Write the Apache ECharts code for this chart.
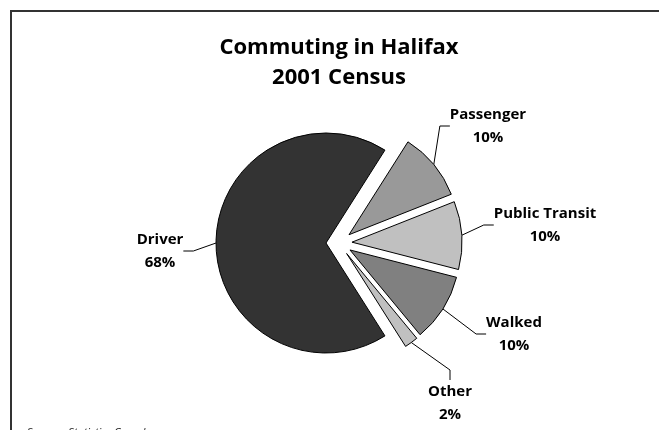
<!DOCTYPE html>
<html><head><meta charset="utf-8">
<script src="https://cdn.jsdelivr.net/npm/echarts@6/dist/echarts.min.js"></script>
<style>html,body{margin:0;padding:0;background:#fff}#c{width:659px;height:430px}</style>
</head><body><div id="c"></div>
<script>
const categories = ['Driver', 'Passenger', 'Public Transit', 'Walked', 'Other'];
const values = [68, 10, 10, 10, 2];
const colors = ['#333333', '#999999', '#c0c0c0', '#808080', '#c0c0c0'];
const titleLines = ['Commuting in Halifax', '2001 Census'];
const sourceText = 'Source:  Statistics Canada';

const FONT = '"Open Sans", Lato, sans-serif';
const CX = 339, CY = 243, R = 110, START = 302.4, EXPLODE = 13;
const labelPos = [[160, 251, 'center'], [488, 126, 'center'], [545, 225, 'center'], [514, 334, 'center'], [450, 403, 'center']];

const total = values.reduce((a, b) => a + b, 0);
let acc = 0;
const series = categories.map((name, i) => {
  const startA = START - 360 * acc / total;
  const mid = (startA - 180 * values[i] / total) * Math.PI / 180;
  acc += values[i];
  return {
    type: 'pie',
    silent: true,
    center: [CX + EXPLODE * Math.cos(mid), CY - EXPLODE * Math.sin(mid)],
    radius: R,
    startAngle: START,
    clockwise: true,
    avoidLabelOverlap: false,
    emphasis: {disabled: true},
    data: categories.map((n, j) => ({
      name: n, value: values[j],
      itemStyle: j === i ? {color: colors[j], borderColor: '#000', borderWidth: 1} : {color: 'rgba(0,0,0,0)', borderWidth: 0},
      label: {show: j === i},
      labelLine: {show: j === i}
    })),
    label: {
      position: 'outside',
      formatter: p => p.name + '\n' + values[p.dataIndex] + '%',
      fontFamily: FONT, fontWeight: 'bold', fontSize: 15, lineHeight: 23, color: '#000', align: 'center'
    },
    labelLine: {length: 10, length2: 10, lineStyle: {color: '#000', width: 1}},
    labelLayout: function (p) {
      const l = labelPos[p.dataIndex];
      return {x: l[0], y: l[1], align: l[2], verticalAlign: 'middle'};
    }
  };
});

const chart = echarts.init(document.getElementById('c'), null, {renderer: 'canvas'});
chart.setOption({
  animation: false,
  backgroundColor: '#fff',
  graphic: [{
    type: 'rect', silent: true,
    shape: {x: 11, y: 11, width: 700, height: 500},
    style: {fill: 'none', stroke: '#333', lineWidth: 2}
  }],
  title: [{
    text: titleLines.join('\n'),
    left: 334, top: 28, textAlign: 'center',
    textStyle: {fontFamily: FONT, fontWeight: 'bold', fontSize: 22, lineHeight: 30, color: '#000'}
  }, {
    text: sourceText,
    left: 22, top: 422,
    textStyle: {fontFamily: FONT, fontStyle: 'italic', fontWeight: 'normal', fontSize: 11, color: '#222'}
  }],
  series: series
});
</script></body></html>
